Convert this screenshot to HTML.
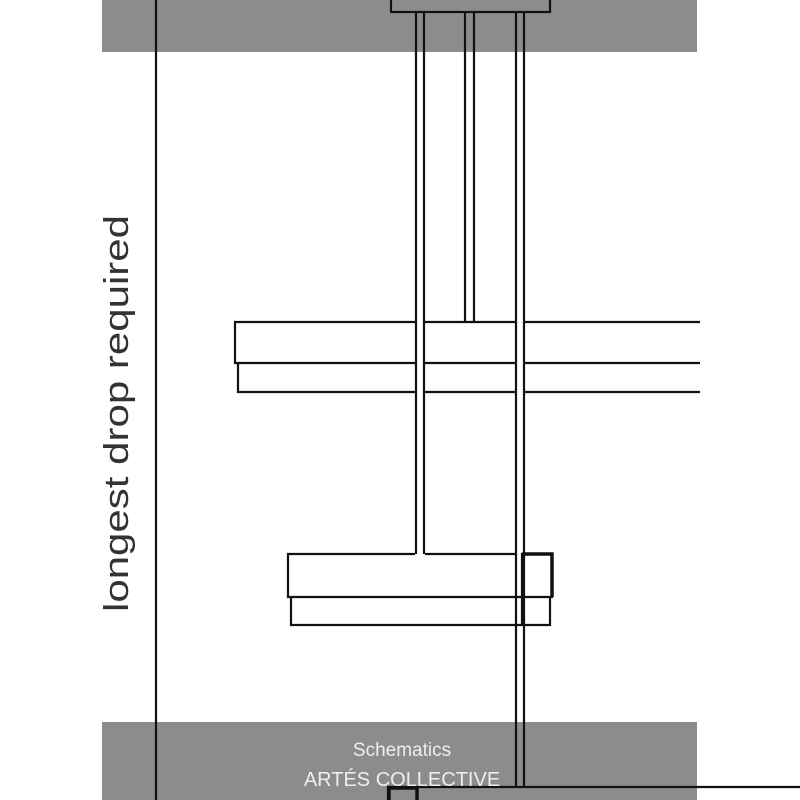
<!DOCTYPE html>
<html><head><style>html,body{margin:0;padding:0;background:#fff}svg{display:block}</style></head>
<body>
<svg width="800" height="800" viewBox="0 0 800 800" xmlns="http://www.w3.org/2000/svg">
<rect x="102" y="0" width="595" height="52" fill="#8c8c8c"/>
<rect x="102" y="722" width="595" height="78" fill="#8c8c8c"/>
<g stroke="#111" stroke-width="2.2" fill="none">
<line x1="156" y1="0" x2="156" y2="800"/>
<rect x="391" y="-5" width="159" height="17" fill="#8c8c8c"/>
<line x1="416" y1="12" x2="416" y2="554"/><line x1="424" y1="12" x2="424" y2="554"/>
<line x1="465" y1="12" x2="465" y2="322"/><line x1="474" y1="12" x2="474" y2="322"/>
<line x1="516" y1="12" x2="516" y2="787"/><line x1="524" y1="12" x2="524" y2="787"/>
<path d="M415 322H235V363H415M425 322H515M525 322H700M425 363H515M525 363H700"/>
<path d="M238 363V392H415M425 392H515M525 392H700"/>
<path d="M415 554H288V597H522M425 554H515M291 597V625H522"/>
<path d="M522 554H552V597H522Z"/>
<path d="M522 554H552V597" stroke-width="3.5"/>
<path d="M522 597V625H550V597"/>
<path d="M388 800V787H800"/>
<rect x="389" y="788" width="28" height="20" stroke-width="3.5"/>
</g>
<text transform="translate(128,612) rotate(-90)" font-family="Liberation Sans, sans-serif" font-size="34" fill="#333" textLength="397" lengthAdjust="spacingAndGlyphs">longest drop required</text>
<text x="402" y="756" text-anchor="middle" font-family="Liberation Sans, sans-serif" font-size="19" fill="#eee">Schematics</text>
<text x="402" y="786" text-anchor="middle" font-family="Liberation Sans, sans-serif" font-size="20" fill="#eee">ARTÉS COLLECTIVE</text>
</svg>
</body></html>
